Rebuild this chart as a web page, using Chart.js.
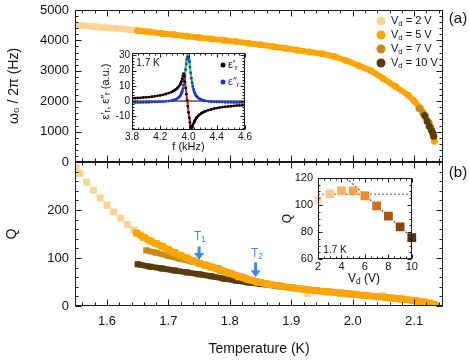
<!DOCTYPE html>
<html lang="en">
<head>
<meta charset="UTF-8">
<title>Resonance frequency and Q versus temperature</title>
<style>
  body { margin: 0; background: #fff; font-family: "Liberation Sans", Arial, sans-serif; color: #111; }
  #wrap { position: relative; width: 469px; height: 362px; overflow: hidden; background: #fff; }
  canvas { position: absolute; }
  .lbl { position: absolute; white-space: nowrap; line-height: 1; transform: translate(-50%, -50%); }
  .lbl sub { font-size: 70%; vertical-align: -0.25em; }
  .dot { position: absolute; border-radius: 50%; transform: translate(-50%, -50%); }
  .leg { position: absolute; white-space: nowrap; line-height: 1; font-size: 11px; transform: translateY(-50%); }
  .leg sub { font-size: 70%; vertical-align: -0.25em; }
</style>
</head>
<body>
<div id="wrap">
  <canvas id="cBot" width="469" height="207" style="left:0;top:155px"></canvas>
  <canvas id="cTop" width="469" height="172" style="left:0;top:0"></canvas>
  <canvas id="cInA" width="162" height="112" style="left:90px;top:46px"></canvas>
  <canvas id="cInB" width="140" height="118" style="left:278px;top:168px"></canvas>

  <div class="lbl" style="left:458px;top:17px;font-size:15px">(a)</div>
  <div class="lbl" style="left:458px;top:171px;font-size:15px">(b)</div>

  <div class="lbl" style="left:148px;top:63px;font-size:10px">1.7 K</div>
  <div class="dot" style="left:223px;top:65px;width:5px;height:5px;background:#000"></div>
  <div class="leg" style="left:228px;top:65px;font-size:11px">ε′<sub>r</sub></div>
  <div class="dot" style="left:223px;top:82px;width:5px;height:5px;background:#1f2fe0"></div>
  <div class="leg" style="left:228px;top:82px;font-size:11px;color:#1f2fe0">ε″<sub>r</sub></div>

  <div class="lbl" style="left:335px;top:250px;font-size:10px">1.7 K</div>
  <div class="lbl" style="left:364px;top:279px;font-size:12px">V<sub>d</sub> (V)</div>

  <div class="lbl" style="left:200px;top:237px;font-size:12px;color:#3a8eea">T<sub>1</sub></div>
  <div class="lbl" style="left:257px;top:254px;font-size:12px;color:#3a8eea">T<sub>2</sub></div>

  <div id="legend"></div>
</div>

<script src="https://cdn.jsdelivr.net/npm/chart.js"></script>
<script>
// drive voltages of the four series and their colours
var driveNames = ['2', '5', '7', '10'];
var driveColors = ['#fdd496', '#fca503', '#c78a16', '#5b3b0c'];

// (a) resonance frequency w0/2pi (Hz) vs temperature (K)
var wT2 = [1.550, 1.558, 1.566, 1.574, 1.582, 1.590, 1.598, 1.606, 1.614, 1.622, 1.630, 1.638, 1.646, 1.654, 1.662];
var w2  = [4500, 4488, 4475, 4462, 4449, 4436, 4423, 4410, 4396, 4382, 4368, 4354, 4340, 4326, 4312];
var wT5 = [1.650, 1.670, 1.690, 1.710, 1.730, 1.750, 1.770, 1.790, 1.810, 1.830, 1.850, 1.870, 1.890, 1.910, 1.930,
           1.950, 1.970, 1.990, 2.010, 2.030, 2.050, 2.070, 2.090, 2.100, 2.110, 2.118, 2.124, 2.128, 2.131, 2.133];
var w5  = [4320, 4275, 4230, 4185, 4140, 4095, 4050, 4005, 3960, 3910, 3855, 3800, 3740, 3680, 3620,
           3560, 3470, 3330, 3170, 3000, 2740, 2480, 2200, 2010, 1780, 1530, 1280, 1050, 850, 680];
var wT7 = [2.108, 2.114, 2.119, 2.124, 2.127];
var w7  = [1760, 1620, 1480, 1300, 1150];
var wT10 = [2.117, 2.121, 2.1245, 2.128, 2.1305, 2.132];
var w10  = [1530, 1340, 1180, 1050, 950, 850];

// (b) quality factor Q vs temperature (K)
var qT2 = [1.550, 1.556, 1.567, 1.578, 1.589, 1.600, 1.611, 1.622, 1.633, 1.644, 1.655, 1.700, 1.760, 1.820, 1.880, 1.927, 1.990, 2.050, 2.100, 2.130];
var q2  = [288, 276, 258, 241, 225, 210, 196, 183, 170, 158, 148, 117, 85, 60, 42, 26, 25, 22, 11, 4];
var qT5 = [1.648, 1.66, 1.67, 1.68, 1.69, 1.70, 1.71, 1.72, 1.73, 1.74, 1.75, 1.76, 1.77, 1.785, 1.80, 1.815, 1.83, 1.845,
           1.86, 1.88, 1.90, 1.92, 1.94, 1.96, 1.98, 2.00, 2.02, 2.04, 2.06, 2.08, 2.10, 2.115, 2.125, 2.132, 2.135];
var q5  = [152, 143, 136, 130, 124, 117, 111, 105, 100, 94, 89, 85, 81, 74, 68, 61, 55, 50,
           46, 42, 38, 35, 32, 29.5, 27, 24.5, 22, 19.5, 17, 14.5, 11.5, 8.5, 6, 3, 1];
var qT7 = [1.664, 1.68, 1.70, 1.72, 1.74, 1.76, 1.78, 1.80, 1.85, 1.90, 1.95, 2.00, 2.05, 2.10, 2.13];
var q7  = [116, 111, 104, 98, 92, 86, 79, 69, 49, 38, 31, 24.5, 18.5, 11.5, 3];
var qT10 = [1.650, 1.67, 1.69, 1.71, 1.73, 1.75, 1.77, 1.79, 1.81, 1.83, 1.85, 1.90, 1.95, 2.00, 2.05, 2.10, 2.13];
var q10  = [87, 82, 78, 74, 70, 66, 62, 57, 53, 49, 46, 38, 31, 24.5, 18.5, 11, 3];

// T1 / T2 arrows (temperature, Q at tail, Q at tip)
var arrowTemp = [1.750, 1.842];
var arrowFromQ = [124, 91];
var arrowToQ = [96, 60];

// inset (a): dielectric response vs f (kHz) at 1.7 K
var insetFreqLabels = ['3.8', '4.2', '4.0', '4.4', '4.6'];
var fKHz = [3.80, 3.82, 3.84, 3.86, 3.88, 3.90, 3.92, 3.94, 3.96, 3.98, 4.00, 4.02, 4.04, 4.06, 4.08,
            4.09, 4.10, 4.11, 4.12, 4.13, 4.14,
            4.145, 4.15, 4.155, 4.16, 4.165, 4.17, 4.175, 4.18, 4.185, 4.19, 4.195, 4.20, 4.205, 4.21, 4.215, 4.22,
            4.225, 4.23, 4.235, 4.24, 4.245, 4.25, 4.255,
            4.26, 4.27, 4.28, 4.29, 4.30, 4.31,
            4.32, 4.34, 4.36, 4.38, 4.40, 4.42, 4.44, 4.46, 4.48, 4.50, 4.52, 4.54, 4.56, 4.58, 4.60];
var epsRe = [1.8, 1.9, 2.0, 2.1, 2.3, 2.4, 2.6, 2.8, 3.1, 3.4, 3.7, 4.1, 4.6, 5.2, 5.9,
             6.4, 6.9, 7.6, 8.4, 9.5, 10.9,
             11.8, 12.9, 14.6, 16.5, 18.0, 16.0, 12.5, 8.5, 4.5, 0.5, -3.5, -7.5, -11.0, -14.0, -16.3, -17.5,
             -17.2, -16.0, -14.8, -13.7, -12.7, -11.9, -11.2,
             -10.6, -9.6, -8.8, -8.1, -7.6, -7.1,
             -6.7, -6.0, -5.5, -5.0, -4.6, -4.3, -4.0, -3.8, -3.6, -3.4, -3.2, -3.0, -2.9, -2.8, -2.6];
var fitRe = [1.8, 1.9, 2.0, 2.1, 2.3, 2.4, 2.6, 2.8, 3.1, 3.4, 3.7, 4.1, 4.6, 5.2, 5.9,
             6.4, 6.9, 7.5, 8.2, 9.2, 10.5,
             11.3, 12.3, 13.5, 14.8, 15.8, 15.5, 12.8, 8.8, 4.8, 0.8, -3.2, -7.2, -10.8, -14.0, -16.4, -17.8,
             -17.4, -16.1, -14.9, -13.8, -12.8, -11.9, -11.2,
             -10.6, -9.6, -8.8, -8.1, -7.6, -7.1,
             -6.7, -6.0, -5.5, -5.0, -4.6, -4.3, -4.0, -3.8, -3.6, -3.4, -3.2, -3.0, -2.9, -2.8, -2.6];
var epsIm = [-0.9, -0.9, -0.9, -0.9, -0.8, -0.8, -0.8, -0.7, -0.7, -0.6, -0.5, -0.4, -0.2, 0.0, 0.3,
             0.5, 0.8, 1.1, 1.6, 2.3, 3.3,
             4.1, 5.1, 6.4, 8.1, 10.4, 13.3, 16.8, 20.6, 24.3, 27.3, 28.8, 28.2, 25.8, 22.3, 18.5, 15.0,
             12.0, 9.6, 7.7, 6.2, 5.0, 4.1, 3.4,
             2.8, 2.0, 1.4, 1.0, 0.6, 0.3,
             0.1, -0.2, -0.4, -0.5, -0.6, -0.7, -0.7, -0.8, -0.8, -0.8, -0.9, -0.9, -0.9, -0.9, -0.9];
var fitIm = [-0.9, -0.9, -0.9, -0.9, -0.8, -0.8, -0.8, -0.7, -0.7, -0.6, -0.5, -0.4, -0.2, 0.0, 0.3,
             0.5, 0.8, 1.1, 1.6, 2.2, 3.1,
             4.0, 5.0, 6.4, 8.3, 10.8, 14.0, 18.0, 22.3, 26.5, 30.0, 32.0, 31.0, 27.5, 23.0, 18.8, 15.0,
             12.0, 9.6, 7.7, 6.2, 5.0, 4.1, 3.4,
             2.8, 2.0, 1.4, 1.0, 0.6, 0.3,
             0.1, -0.2, -0.4, -0.5, -0.6, -0.7, -0.7, -0.8, -0.8, -0.8, -0.9, -0.9, -0.9, -0.9, -0.9];
var zeroF = [3.8, 4.6];
var zeroY = [0, 0];

// inset (b): Q vs drive voltage Vd (V) at 1.7 K
var vDrive = [2, 3, 4, 5, 6, 7, 8, 9, 10];
var qDrive = [103.5, 108.3, 110.5, 110.4, 106.8, 99.3, 91.8, 83.8, 75.8];
var vDriveColors = ['#fde2c2', '#fdca90', '#fbb066', '#f9a04a', '#ef8a26', '#d27118', '#aa570d', '#87440b', '#5c3008'];
var vPlateau = [2, 10];
var qPlateau = [108, 108];
var vSlope = [4.4, 10];
var qSlope = [120, 76];

function pts(xs, ys) {
    return xs.map(function (v, i) { return { x: v, y: ys[i] }; });
}

Chart.defaults.font.family = '"Liberation Sans", Arial, sans-serif';
Chart.defaults.color = '#111';

// box around the plot area with inward tick marks on all four sides
var frameTicks = {
    id: 'frameTicks',
    beforeDraw: function (chart, args, o) {
        var a = chart.chartArea, ctx = chart.ctx;
        if (o.fill) {
            ctx.save();
            ctx.fillStyle = o.fill;
            ctx.fillRect(a.left, a.top, a.right - a.left, a.bottom - a.top);
            ctx.restore();
        }
    },
    afterDraw: function (chart, args, o) {
        var a = chart.chartArea, ctx = chart.ctx, sx = chart.scales.x, sy = chart.scales.y;
        var L = Math.round(a.left) + 0.5, R = Math.round(a.right) - 0.5;
        var T = Math.round(a.top) + 0.5, B = Math.round(a.bottom) - 0.5;
        ctx.save();
        ctx.strokeStyle = '#1a1a1a';
        ctx.lineWidth = 1;
        ctx.strokeRect(L, T, R - L, B - T);
        ctx.beginPath();
        function marks(scale, major, minor, cb) {
            var n0 = Math.ceil(scale.min / minor - 1e-6), n1 = Math.floor(scale.max / minor + 1e-6);
            for (var n = n0; n <= n1; n++) {
                var v = n * minor, r = v / major;
                var len = Math.abs(r - Math.round(r)) < 1e-6 ? o.major : o.minor;
                cb(Math.round(scale.getPixelForValue(v)) + 0.5, len);
            }
        }
        marks(sx, o.xMajor, o.xMinor, function (p, len) {
            ctx.moveTo(p, T); ctx.lineTo(p, T + len);
            ctx.moveTo(p, B); ctx.lineTo(p, B - len);
        });
        marks(sy, o.yMajor, o.yMinor, function (p, len) {
            ctx.moveTo(L, p); ctx.lineTo(L + len, p);
            ctx.moveTo(R, p); ctx.lineTo(R - len, p);
        });
        ctx.stroke();
        ctx.restore();
    }
};

// blue arrows marking T1 and T2
var arrowMarks = {
    id: 'arrowMarks',
    afterDatasetsDraw: function (chart) {
        var ctx = chart.ctx, sx = chart.scales.x, sy = chart.scales.y;
        ctx.save();
        ctx.fillStyle = '#3a8eea';
        ctx.strokeStyle = '#3a8eea';
        ctx.lineWidth = 3;
        arrowTemp.forEach(function (t, i) {
            var px = sx.getPixelForValue(t);
            var y0 = sy.getPixelForValue(arrowFromQ[i]), y1 = sy.getPixelForValue(arrowToQ[i]);
            ctx.beginPath();
            ctx.moveTo(px, y0);
            ctx.lineTo(px, y1 - 6);
            ctx.stroke();
            ctx.beginPath();
            ctx.moveTo(px - 5, y1 - 7);
            ctx.lineTo(px + 5, y1 - 7);
            ctx.lineTo(px, y1);
            ctx.closePath();
            ctx.fill();
        });
        ctx.restore();
    }
};

function noPad(s) { s.paddingLeft = 0; s.paddingRight = 0; s.paddingTop = 0; s.paddingBottom = 0; }
function plain(v) { return String(v); }

var hidden = { display: false, drawTicks: false };

// ---- panel (a)
new Chart(document.getElementById('cTop'), {
    type: 'scatter',
    data: {
        datasets: [
            { data: pts(wT10, w10), backgroundColor: driveColors[3], pointRadius: 3.5, pointBorderWidth: 0 },
            { data: pts(wT7, w7), backgroundColor: driveColors[2], pointRadius: 3.5, pointBorderWidth: 0 },
            { data: pts(wT5, w5), backgroundColor: driveColors[1], borderColor: driveColors[1], showLine: true,
              borderWidth: 6, borderCapStyle: 'round', borderJoinStyle: 'round', pointRadius: 3.5, pointBorderWidth: 0 },
            { data: pts(wT2, w2), backgroundColor: driveColors[0], borderColor: driveColors[0], showLine: true,
              borderWidth: 6, borderCapStyle: 'round', borderJoinStyle: 'round', pointRadius: 3.5, pointBorderWidth: 0 }
        ]
    },
    options: {
        responsive: false,
        animation: false,
        layout: { padding: { top: 10, right: 26, left: 0, bottom: 0 } },
        plugins: {
            legend: { display: false },
            tooltip: { enabled: false },
            frameTicks: { xMajor: 0.1, xMinor: 0.02, yMajor: 1000, yMinor: 200, major: 6, minor: 3 }
        },
        scales: {
            x: {
                type: 'linear', min: 1.548, max: 2.147,
                grid: hidden, border: { display: false }, ticks: { display: false },
                afterFit: function (s) { s.height = 10; noPad(s); }
            },
            y: {
                min: 0, max: 5000,
                grid: hidden, border: { display: false },
                ticks: { stepSize: 1000, padding: 6, font: { size: 13 }, color: '#111', callback: plain },
                title: { display: true, text: 'ω₀ / 2π (Hz)', font: { size: 14 }, color: '#111', padding: { top: 6, bottom: 0 } },
                afterFit: function (s) { s.width = 75; noPad(s); }
            }
        }
    },
    plugins: [frameTicks]
});

// ---- panel (b)
new Chart(document.getElementById('cBot'), {
    type: 'scatter',
    data: {
        datasets: [
            { data: pts(qT5, q5), backgroundColor: driveColors[1], borderColor: driveColors[1], showLine: true,
              borderWidth: 7, borderJoinStyle: 'round', pointStyle: 'rect', pointRadius: 5, pointBorderWidth: 0 },
            { data: pts(qT7, q7), backgroundColor: driveColors[2], borderColor: driveColors[2], showLine: true,
              borderWidth: 6, borderJoinStyle: 'round', pointStyle: 'rect', pointRadius: 4.3, pointBorderWidth: 0 },
            { data: pts(qT10, q10), backgroundColor: driveColors[3], borderColor: driveColors[3], showLine: true,
              borderWidth: 6, borderJoinStyle: 'round', pointStyle: 'rect', pointRadius: 4.3, pointBorderWidth: 0 },
            { data: pts(qT2, q2), backgroundColor: driveColors[0], pointStyle: 'rect', pointRadius: 5, pointBorderWidth: 0 }
        ]
    },
    options: {
        responsive: false,
        animation: false,
        layout: { padding: { top: 7, right: 26, left: 0, bottom: 0 } },
        plugins: {
            legend: { display: false },
            tooltip: { enabled: false },
            frameTicks: { xMajor: 0.1, xMinor: 0.02, yMajor: 100, yMinor: 20, major: 6, minor: 3 }
        },
        scales: {
            x: {
                type: 'linear', min: 1.548, max: 2.147,
                grid: hidden, border: { display: false },
                ticks: { stepSize: 0.1, includeBounds: false, autoSkip: false, maxRotation: 0, padding: 8,
                         font: { size: 13 }, color: '#111', callback: function (v) { return v.toFixed(1); } },
                title: { display: true, text: 'Temperature (K)', font: { size: 14 }, color: '#111', padding: { top: 0, bottom: 4 } },
                afterFit: function (s) { s.height = 56; noPad(s); }
            },
            y: {
                min: 0, max: 300,
                grid: hidden, border: { display: false },
                ticks: { stepSize: 100, padding: 6, font: { size: 13 }, color: '#111',
                         callback: function (v) { return v >= 300 ? '' : String(v); } },
                title: { display: true, text: 'Q', font: { size: 14 }, color: '#111', padding: { top: 4, bottom: 0 } },
                afterFit: function (s) { s.width = 75; noPad(s); }
            }
        }
    },
    plugins: [frameTicks, arrowMarks]
});

// ---- inset of (a)
new Chart(document.getElementById('cInA'), {
    type: 'scatter',
    data: {
        datasets: [
            { data: pts(fKHz, epsRe), backgroundColor: '#000', pointRadius: 1.4, pointBorderWidth: 0 },
            { data: pts(fKHz, epsIm), backgroundColor: '#1f2fe0', pointRadius: 1.4, pointBorderWidth: 0 },
            { data: pts(fKHz, fitRe), borderColor: '#e0201a', showLine: true, borderWidth: 2, pointRadius: 0 },
            { data: pts(fKHz, fitIm), borderColor: '#22d22a', showLine: true, borderWidth: 2, pointRadius: 0 },
            { data: pts(zeroF, zeroY), borderColor: '#000', showLine: true, borderWidth: 1, pointRadius: 0 }
        ]
    },
    options: {
        responsive: false,
        animation: false,
        layout: { padding: { top: 7, right: 7, left: 0, bottom: 0 } },
        plugins: {
            legend: { display: false },
            tooltip: { enabled: false },
            frameTicks: { fill: '#fff', xMajor: 0.2, xMinor: 0.04, yMajor: 10, yMinor: 2, major: 4, minor: 2 }
        },
        scales: {
            x: {
                type: 'linear', min: 3.8, max: 4.6,
                grid: hidden, border: { display: false },
                ticks: { stepSize: 0.2, autoSkip: false, maxRotation: 0, padding: 1, font: { size: 10 }, color: '#111',
                         callback: function (v, i) { return insetFreqLabels[i] || ''; } },
                title: { display: true, text: 'f (kHz)', font: { size: 11 }, color: '#111', padding: { top: 0, bottom: 4 } },
                afterFit: function (s) { s.height = 28; noPad(s); }
            },
            y: {
                min: -19, max: 31.5,
                grid: hidden, border: { display: false },
                ticks: { stepSize: 10, includeBounds: false, padding: 2, font: { size: 10 }, color: '#111' },
                title: { display: true, text: 'ε′ᵣ, ε″ᵣ (a.u.)', font: { size: 11 }, color: '#111', padding: { top: 9, bottom: 0 } },
                afterFit: function (s) { s.width = 42; noPad(s); }
            }
        }
    },
    plugins: [frameTicks]
});

// ---- inset of (b)
new Chart(document.getElementById('cInB'), {
    type: 'scatter',
    data: {
        datasets: [
            { data: pts(vDrive, qDrive), backgroundColor: vDriveColors, pointStyle: 'rect', pointRadius: 6.2,
              pointBorderWidth: 0, clip: false },
            { data: pts(vPlateau, qPlateau), borderColor: '#777', showLine: true, borderWidth: 1.2,
              borderDash: [2, 2], pointRadius: 0 },
            { data: pts(vSlope, qSlope), borderColor: '#555', showLine: true, borderWidth: 1.2,
              borderDash: [2, 2], pointRadius: 0 }
        ]
    },
    options: {
        responsive: false,
        animation: false,
        layout: { padding: { top: 10, right: 6, left: 0, bottom: 0 } },
        plugins: {
            legend: { display: false },
            tooltip: { enabled: false },
            frameTicks: { fill: '#fff', xMajor: 2, xMinor: 0.5, yMajor: 20, yMinor: 5, major: 4, minor: 2 }
        },
        scales: {
            x: {
                type: 'linear', min: 2, max: 10,
                grid: hidden, border: { display: false },
                ticks: { stepSize: 2, autoSkip: false, maxRotation: 0, padding: 1, font: { size: 11 }, color: '#111' },
                afterFit: function (s) { s.height = 27; noPad(s); }
            },
            y: {
                min: 60, max: 120,
                grid: hidden, border: { display: false },
                ticks: { stepSize: 20, padding: 5, font: { size: 11 }, color: '#111' },
                title: { display: true, text: 'Q', font: { size: 12 }, color: '#111', padding: { top: 2, bottom: 0 } },
                afterFit: function (s) { s.width = 40; noPad(s); }
            }
        }
    },
    plugins: [frameTicks]
});

// legend of panel (a)
var legendY = [21, 35, 49, 63];
var legendHtml = '';
driveNames.forEach(function (v, i) {
    legendHtml += '<div class="dot" style="left:381px;top:' + legendY[i] + 'px;width:9px;height:9px;background:' + driveColors[i] + '"></div>';
    legendHtml += '<div class="leg" style="left:391px;top:' + legendY[i] + 'px">V<sub>d</sub> = ' + v + ' V</div>';
});
document.getElementById('legend').innerHTML = legendHtml;
</script>
</body>
</html>
